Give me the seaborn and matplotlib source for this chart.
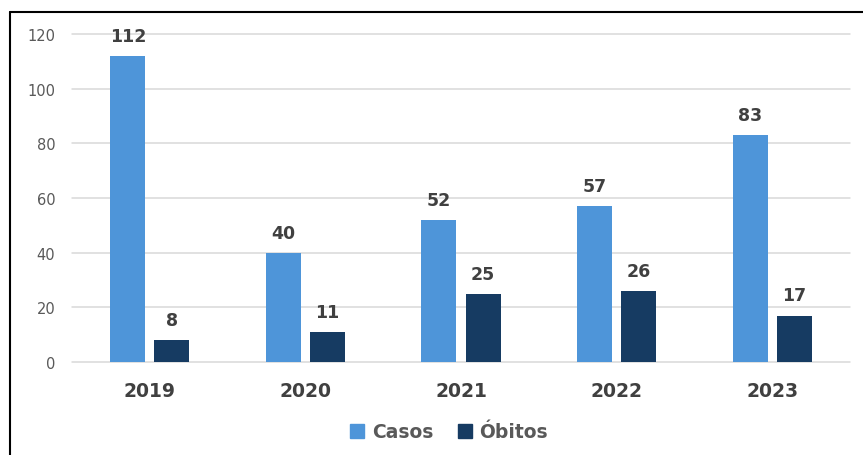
import pandas as pd
import numpy as np
import matplotlib
matplotlib.use('Agg')
import matplotlib.pyplot as plt
import seaborn as sns
from matplotlib.lines import Line2D

sns.set_style('white')
plt.rcParams['font.family'] = ['DejaVu Sans']

# dados
anos = ['2019', '2020', '2021', '2022', '2023']
casos = [112, 40, 52, 57, 83]
obitos = [8, 11, 25, 26, 17]
series = ['Casos', 'Óbitos']
cores = ['#4E95D9', '#163B62']

df = pd.DataFrame({
    'ano': anos * 2,
    'valor': casos + obitos,
    'serie': [series[0]] * len(anos) + [series[1]] * len(anos),
})

fig = plt.figure(figsize=(8.63, 4.56), dpi=100)
ax = fig.add_axes([72 / 863, 1 - 363 / 456, (850 - 72) / 863, (363 - 35) / 456])

sns.barplot(data=df, x='ano', y='valor', hue='serie', palette=cores, saturation=1,
            width=0.566, gap=0.205, ax=ax, legend=True, edgecolor='none')

ax.set_ylim(0, 120)
ax.set_xlim(-0.5, 4.5)
ax.set_yticks(range(0, 121, 20))
ax.yaxis.grid(True, color='#D9D9D9', linewidth=1.1)
ax.set_axisbelow(True)
for gl in ax.get_ygridlines():
    gl.set_clip_on(False)
for s in ax.spines.values():
    s.set_visible(False)
ax.tick_params(axis='y', length=0, pad=12, labelsize=10.5, labelcolor='#595959')
ax.tick_params(axis='x', length=0, pad=14, labelsize=13.5, labelcolor='#404040')
for t in ax.get_xticklabels():
    t.set_fontweight('bold')
ax.set_xlabel('')
ax.set_ylabel('')

for cont in ax.containers:
    ax.bar_label(cont, padding=8, fontsize=12.5, fontweight='bold', color='#404040')

ax.get_legend().remove()
handles = [plt.Rectangle((0, 0), 1, 1, color=c) for c in cores]
leg = fig.legend(handles, series, loc='center', bbox_to_anchor=(449 / 863, 1 - 433 / 456),
                 ncol=2, frameon=False, handlelength=0.75, handleheight=0.75,
                 handletextpad=0.4, columnspacing=1.3, prop={'size': 13.5, 'weight': 'bold'})
for t in leg.get_texts():
    t.set_color('#595959')

# moldura
fig.add_artist(Line2D([9.5 / 863, 9.5 / 863], [0, 1 - 13 / 456], color='black', linewidth=1.5))
fig.add_artist(Line2D([9.5 / 863, 1], [1 - 13 / 456, 1 - 13 / 456], color='black', linewidth=1.5))

fig.savefig('out.png', dpi=100)
